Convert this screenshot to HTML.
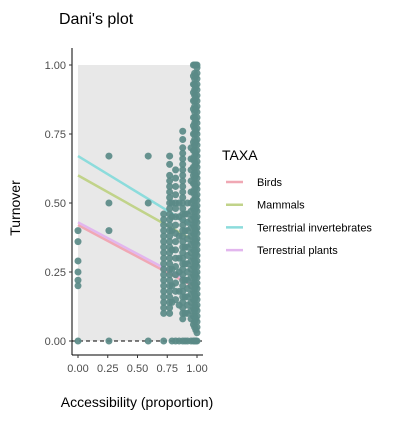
<!DOCTYPE html>
<html><head><meta charset="utf-8"><style>
body{margin:0;background:#fff;font-family:"Liberation Sans",sans-serif;}
svg text{font-family:"Liberation Sans",sans-serif;}
</style></head><body>
<svg width="400" height="416" viewBox="0 0 400 416">
<script>
const xTicks=[0,0.25,0.5,0.75,1];
const yTicks=[0,0.25,0.5,0.75,1];
const tickLabels=["0.00","0.25","0.50","0.75","1.00"];
const taxa=["Birds","Mammals","Terrestrial invertebrates","Terrestrial plants"];
const taxaColors=["#f0a8b4","#c1d38a","#8cdcdc","#e2b6ee"];
const lineX=[[0,0.96],[0,0.95],[0,0.95],[0,0.96]];
const lineY=[[0.42,0.20],[0.60,0.37],[0.67,0.42],[0.43,0.21]];
const colX=[0,0.26,0.59,0.72,0.77,0.79,0.82,0.85,0.88,0.90,0.92,0.95,0.97,0.98,0.99,1.0];
const colY=[
[0,0.20,0.22,0.25,0.29,0.36,0.40],
[0,0.40,0.50,0.67],
[0,0.50,0.67],
[0,0.10,0.12,0.14,0.16,0.18,0.20,0.22,0.24,0.26,0.28,0.30,0.32,0.34,0.36,0.38,0.40,0.42,0.44,0.46],
[0.10,0.12,0.14,0.16,0.18,0.20,0.22,0.24,0.26,0.28,0.30,0.32,0.34,0.36,0.38,0.40,0.42,0.44,0.46,0.48,0.50,0.52,0.54,0.56,0.58,0.60,0.64,0.67],
[0,0.14,0.20,0.26,0.33,0.40,0.45,0.50],
[0,0.15,0.18,0.21,0.24,0.27,0.30,0.33,0.36,0.39,0.42,0.45,0.48,0.50,0.53,0.56,0.59,0.62],
[0,0.13,0.18,0.25,0.30,0.38,0.45,0.50],
[0,0.08,0.10,0.12,0.14,0.16,0.18,0.20,0.22,0.24,0.26,0.28,0.30,0.32,0.34,0.36,0.38,0.40,0.42,0.44,0.46,0.48,0.50,0.52,0.54,0.56,0.58,0.60,0.62,0.64,0.66,0.68,0.70,0.73,0.76],
[0,0.10,0.16,0.22,0.28,0.34,0.40,0.46],
[0,0.10,0.13,0.16,0.19,0.22,0.25,0.28,0.31,0.34,0.37,0.40,0.43,0.46,0.50],
[0,0.08,0.11,0.14,0.17,0.20,0.23,0.26,0.29,0.32,0.35,0.38,0.41,0.44,0.47,0.50,0.54,0.58,0.62,0.66,0.70],
[0,0.06,0.09,0.12,0.15,0.18,0.21,0.24,0.27,0.30,0.33,0.36,0.39,0.42,0.45,0.48,0.51,0.54,0.57,0.60,0.63,0.66,0.69,0.72,0.75,0.78,0.81,0.84,0.87,0.90,0.93,0.96,1.0],
[0,0.05,0.07,0.09,0.11,0.13,0.15,0.17,0.19,0.21,0.23,0.25,0.27,0.29,0.31,0.33,0.35,0.37,0.39,0.41,0.43,0.45,0.47,0.49,0.51,0.53,0.55,0.57,0.59,0.61,0.63,0.65,0.67,0.69,0.71,0.73,0.75,0.77,0.79,0.81,0.83,0.85,0.87,0.89,0.91,0.93,0.95,0.97,1.0],
[0,0.04,0.08,0.12,0.16,0.20,0.24,0.28,0.32,0.36,0.40,0.44,0.48,0.52,0.56,0.60,0.64,0.68,0.72,0.76,0.80,0.84,0.88,0.92,0.96,1.0],
[0,0.03,0.05,0.07,0.09,0.11,0.13,0.15,0.17,0.19,0.21,0.23,0.25,0.27,0.29,0.31,0.33,0.35,0.37,0.39,0.41,0.43,0.45,0.47,0.49,0.51,0.53,0.55,0.57,0.59,0.61,0.63,0.65,0.67,0.69,0.71,0.73,0.75,0.77,0.79,0.81,0.83,0.85,0.87,0.89,0.91,0.93,0.95,0.97,0.99,1.0]
];
</script>
<text x="59" y="24" font-size="16" fill="#000">Dani's plot</text>
<rect x="78" y="65" width="119" height="276" fill="#e8e8e8"/>
<g id="plot"></g>
<line x1="72" y1="48" x2="72" y2="355" stroke="#000" stroke-width="1"/>
<line x1="72" y1="355" x2="203" y2="355" stroke="#000" stroke-width="1"/>
<g id="axes"></g>
<text x="20" y="208" font-size="14" text-anchor="middle" transform="rotate(-90 20 208)">Turnover</text>
<text x="137" y="407" font-size="14" text-anchor="middle">Accessibility (proportion)</text>
<text x="222" y="160" font-size="14">TAXA</text>
<g id="legend"></g>
<script>
const NS="http://www.w3.org/2000/svg";
const sx=v=>78+v*119, sy=v=>341-v*276;
const plot=document.getElementById('plot'), axes=document.getElementById('axes'), leg=document.getElementById('legend');
function mk(tag,attrs,parent){const e=document.createElementNS(NS,tag);for(const k in attrs)e.setAttribute(k,attrs[k]);parent.appendChild(e);return e;}
const dash=mk('line',{x1:72,y1:sy(0),x2:203,y2:sy(0),stroke:'#000','stroke-dasharray':'4,3'},plot);


taxa.forEach((t,i)=>{
 const l=mk('line',{x1:sx(lineX[i][0]),y1:sy(lineY[i][0]),x2:sx(lineX[i][1]),y2:sy(lineY[i][1]),stroke:taxaColors[i],'stroke-width':2.5},plot);
 
 
 const ly=182+i*22.7;
 const k=mk('line',{x1:226,y1:ly,x2:243,y2:ly,stroke:taxaColors[i],'stroke-width':2.5},leg);
 
 
 const tx=mk('text',{x:257,y:ly+4,'font-size':11},leg);tx.textContent=t;
 
 
});
colX.forEach((x,i)=>colY[i].forEach(y=>{
 const c=mk('circle',{cx:sx(x),cy:sy(y),r:3.5,fill:'#5a8a87','fill-opacity':0.92},plot);
 
 
}));
yTicks.forEach((v,i)=>{
 mk('line',{x1:69,y1:sy(v),x2:72,y2:sy(v),stroke:'#333'},axes);
 const t=mk('text',{x:66,y:sy(v)+4,'font-size':11,'text-anchor':'end',fill:'#4d4d4d'},axes);t.textContent=tickLabels[i];
 
 
});
xTicks.forEach((v,i)=>{
 mk('line',{x1:sx(v),y1:355,x2:sx(v),y2:358,stroke:'#333'},axes);
 const t=mk('text',{x:sx(v),y:372,'font-size':11,'text-anchor':'middle',fill:'#4d4d4d'},axes);t.textContent=tickLabels[i];
 
 
});
</script>
</svg>
</body></html>
